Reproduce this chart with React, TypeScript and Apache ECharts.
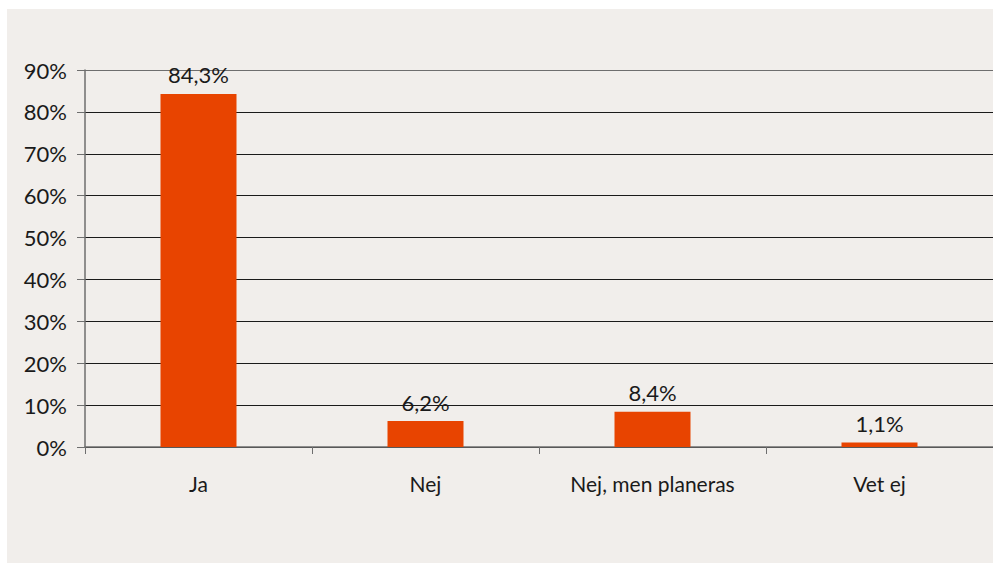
import React, { useEffect, useRef } from "react";
import * as echarts from "echarts";

const categories = ["Ja", "Nej", "Nej, men planeras", "Vet ej"];
const values = [84.3, 6.2, 8.4, 1.1];
const yTicks = [0, 10, 20, 30, 40, 50, 60, 70, 80, 90];

const FONT = "Lato, 'Open Sans', sans-serif";

export default function App() {
  const ref = useRef<HTMLDivElement>(null);
  useEffect(() => {
    document.body.style.margin = "0";
    const chart = echarts.init(ref.current!, null, { renderer: "svg" });
    const splitColors = yTicks.map((t, i) => (i === yTicks.length - 1 ? "#6e6e6e" : "#1a1a1a"));
    chart.setOption({
      animation: false,
      backgroundColor: "#ffffff",
      graphic: [
        {
          type: "rect",
          z: -10,
          shape: { x: 7, y: 9, width: 993 - 7, height: 563 - 9 },
          style: { fill: "#f1eeeb" },
          silent: true,
        },
      ],
      grid: { left: 85, right: 0, top: 70, bottom: 118, containLabel: false },
      xAxis: {
        type: "category",
        data: categories,
        axisLine: { show: true, lineStyle: { color: "#6e6e6e", width: 1.5 } },
        axisTick: { show: true, alignWithLabel: false, length: 7, lineStyle: { color: "#6e6e6e" } },
        axisLabel: { fontFamily: FONT, fontSize: 21, color: "#1a1a1a", margin: 26 },
      },
      yAxis: {
        type: "value",
        min: 0,
        max: 90,
        interval: 10,
        axisLine: { show: true, lineStyle: { color: "#6e6e6e", width: 1.5 } },
        axisTick: { show: true, length: 8, lineStyle: { color: "#6e6e6e" } },
        axisLabel: {
          fontFamily: FONT,
          fontSize: 22,
          color: "#1a1a1a",
          margin: 18,
          formatter: (v: number) => `${v}%`,
        },
        splitLine: { show: true, lineStyle: { color: splitColors, width: 1 } },
      },
      series: [
        {
          type: "bar",
          data: values,
          barWidth: 76,
          itemStyle: { color: "#e84400" },
          label: {
            show: true,
            position: "top",
            distance: 8,
            fontFamily: FONT,
            fontSize: 22,
            color: "#1a1a1a",
            formatter: (p: any) => `${p.value.toFixed(1).replace(".", ",")}%`,
          },
        },
      ],
    });
    return () => chart.dispose();
  }, []);
  return (
    <div
      ref={ref}
      style={{ position: "absolute", left: 0, top: 0, width: 993, height: 565 }}
    />
  );
}
